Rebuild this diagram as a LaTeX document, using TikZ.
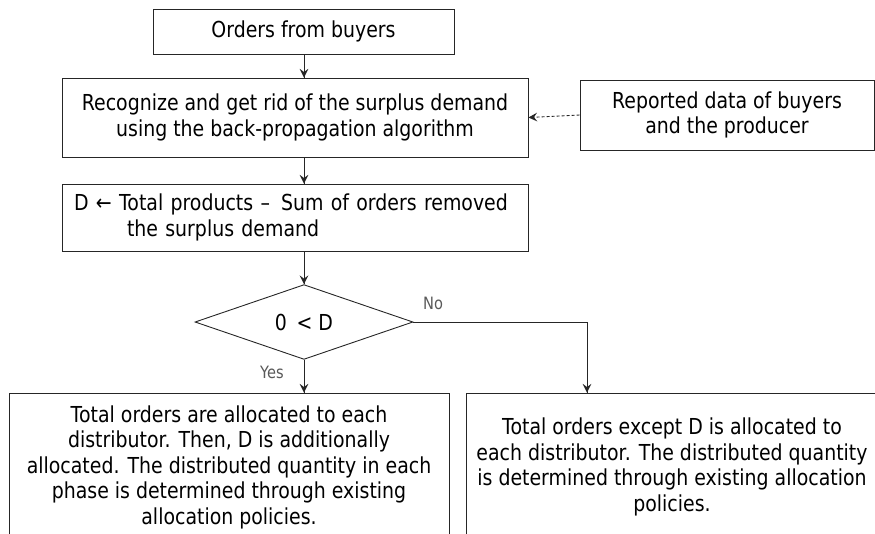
\documentclass[tikz,border=0pt]{standalone}
\usepackage{fontspec}
\setmainfont{DejaVu Sans}[FakeStretch=0.86]
\usetikzlibrary{arrows,shapes.geometric,decorations.markings}

\begin{document}
\begin{tikzpicture}[
  x=1pt, y=-1pt,
  every node/.style = {draw=black!85, line width=0.9pt, align=center, inner sep=0pt,
    font=\fontsize{22}{25.5}\selectfont},
  StepBox/.style = {shape=rectangle, minimum width=#1},
  Label/.style = {draw=none, text=black!65, font=\fontsize{17}{20}\selectfont}
  ]
  \useasboundingbox (0,0) rectangle (875,533);

  \node[StepBox=301pt, minimum height=45pt] (orders) at (303.5,31.5) {Orders from buyers};
  \node[StepBox=466pt, minimum height=79pt] (recog) at (295,117.5)
    {Recognize and get rid of the surplus demand\\using the back-propagation algorithm};
  \node[StepBox=294pt, minimum height=70pt] (reported) at (727,115)
    {Reported data of buyers\\and the producer};
  \node[StepBox=466pt, minimum height=67pt, align=left, text width=442pt, inner xsep=12pt] (total) at (295,217.5)
    {\mbox{D ← Total products –\, Sum of orders removed}\\\hspace{53pt}the surplus demand};
  \node[shape=diamond, minimum width=218pt, minimum height=71pt] (dec) at (304,322) {0\, < D};
  \node[StepBox=440pt, minimum height=148pt] (yes) at (229,467)
    {Total orders are allocated to each\\distributor. Then, D is additionally\\allocated. The distributed quantity in each\\phase is determined through existing\\allocation policies.};
  \node[StepBox=412pt, minimum height=148pt] (no) at (672,467)
    {Total orders except D is allocated to\\each distributor. The distributed quantity\\is determined through existing allocation\\policies.};
  \coordinate (bend) at (587,322);

  \tikzset{EdgeDown/.style = {black!85, line width=0.9pt, decoration={markings,mark=at position 1 with
    {\arrow[scale=2,>=stealth,solid]{>}}},postaction={decorate}}}
  \tikzset{EdgeData/.style = {EdgeDown, dash pattern=on 3pt off 2pt}}

  \draw[EdgeDown] (dec |- orders.south) -- (dec |- recog.north);
  \draw[EdgeDown] (dec |- recog.south) -- (dec |- total.north);
  \draw[EdgeDown] (dec |- total.south) -- (dec.north);
  \draw[EdgeData] (reported.west) -- (recog.east);
  \draw[black!85, line width=0.9pt] (dec.east) -- (bend);
  \draw[EdgeDown] (bend) -- (bend |- no.north);
  \draw[EdgeDown] (dec.south) -- (dec |- yes.north);

  \node[Label] (nolabel) at (433,303) {No};
  \node[Label] (yeslabel) at (272,372) {Yes};
\end{tikzpicture}
\end{document}
